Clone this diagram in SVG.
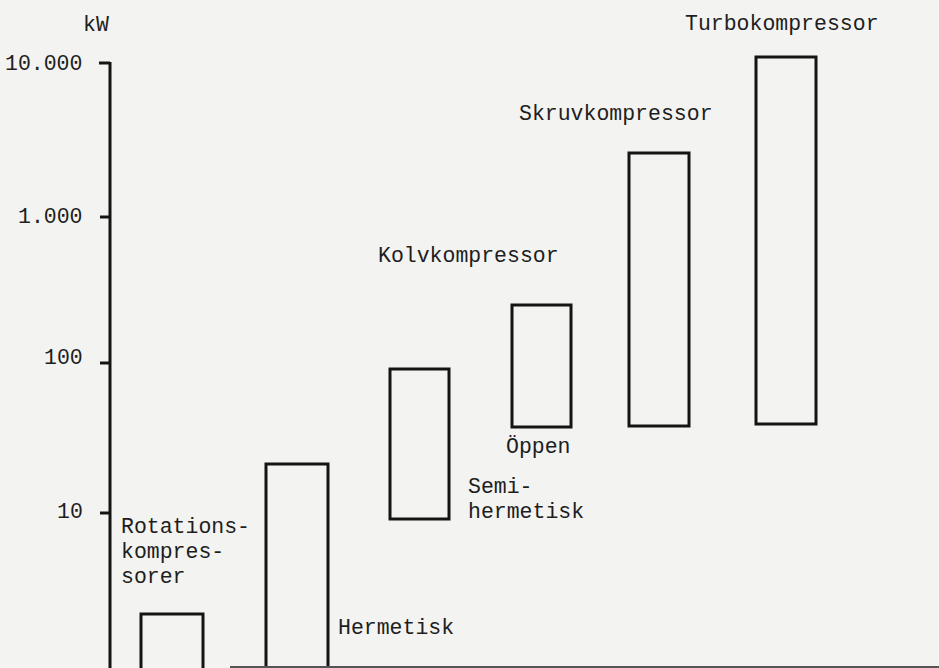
<svg xmlns="http://www.w3.org/2000/svg" width="939" height="668" viewBox="0 0 939 668">
  <style>
    .t { font-family: "Liberation Mono", "DejaVu Sans Mono", monospace; font-size: 21.5px; fill: #1e1e1e; }
    .bar { fill: none; stroke: #141414; stroke-width: 3; stroke-linejoin: miter; }
    .ax { stroke: #141414; stroke-width: 3; fill: none; }
  </style>
  <rect x="0" y="0" width="939" height="668" fill="#f3f3f1"/>
  <g id="axis">
    <line class="ax" x1="110" y1="62" x2="110" y2="668"/>
    <line class="ax" x1="99" y1="63" x2="110" y2="63"/>
    <line class="ax" x1="100" y1="217" x2="110" y2="217"/>
    <line class="ax" x1="100" y1="363" x2="110" y2="363"/>
    <line class="ax" x1="100" y1="513" x2="110" y2="513"/>
    <text class="t" x="83" y="31">kW</text>
    <text class="t" x="5" y="70">10.000</text>
    <text class="t" x="18" y="223">1.000</text>
    <text class="t" x="44" y="364">100</text>
    <text class="t" x="57" y="518">10</text>
  </g>
  <g id="rotationskompressorer">
    <polyline class="bar" points="141,668 141,614 203,614 203,668"/>
    <text class="t" x="121" y="533">Rotations-</text>
    <text class="t" x="121" y="558">kompres-</text>
    <text class="t" x="121" y="583">sorer</text>
  </g>
  <g id="hermetisk">
    <polyline class="bar" points="266,668 266,464 328,464 328,668"/>
    <text class="t" x="338" y="634">Hermetisk</text>
  </g>
  <g id="semihermetisk">
    <rect class="bar" x="390" y="369" width="59" height="150"/>
    <text class="t" x="468" y="493">Semi-</text>
    <text class="t" x="468" y="518">hermetisk</text>
  </g>
  <g id="oppen">
    <rect class="bar" x="512" y="305" width="59" height="122"/>
    <text class="t" x="506" y="453">Öppen</text>
  </g>
  <g id="kolvkompressor">
    <text class="t" x="378" y="262">Kolvkompressor</text>
  </g>
  <g id="skruvkompressor">
    <rect class="bar" x="629" y="153" width="60" height="273"/>
    <text class="t" x="519" y="120">Skruvkompressor</text>
  </g>
  <g id="turbokompressor">
    <rect class="bar" x="756" y="57" width="60" height="367"/>
    <text class="t" x="685" y="30">Turbokompressor</text>
  </g>
  <g id="connectors"/>
  <line x1="230" y1="667" x2="939" y2="667" stroke="#555" stroke-width="2"/>
</svg>
